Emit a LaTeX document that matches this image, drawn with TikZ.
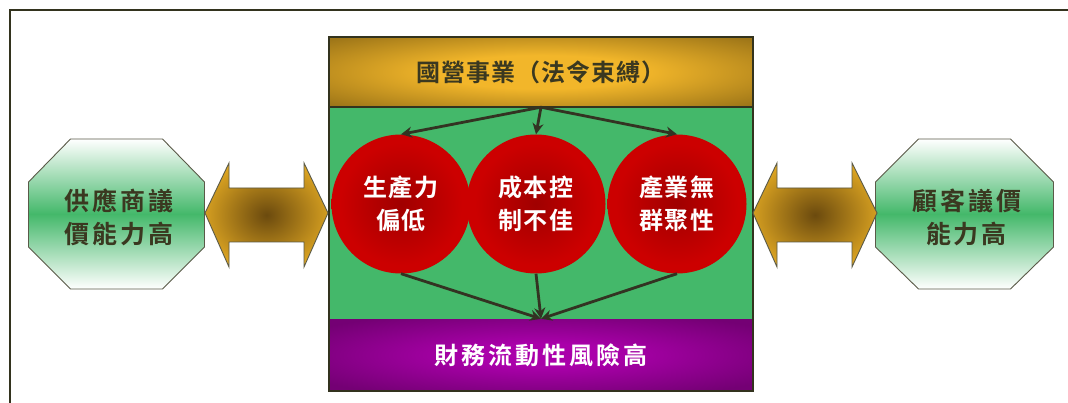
\documentclass[tikz,border=0pt]{standalone}
\usepackage{fontspec}
\usetikzlibrary{arrows.meta}
\newfontfamily\cjk{Noto Sans CJK TC Bold}
\definecolor{frm}{HTML}{33331E}
\definecolor{grn}{HTML}{44B86A}
\definecolor{goldo}{HTML}{9E7618}
\definecolor{goldi}{HTML}{F2B62A}
\definecolor{puro}{HTML}{740074}
\definecolor{puri}{HTML}{AA00AA}
\definecolor{redo}{HTML}{CC0000}
\definecolor{redi}{HTML}{A00000}
\definecolor{txt}{HTML}{3A3820}
\definecolor{arr}{HTML}{333322}
\definecolor{arro}{HTML}{E8AE24}
\definecolor{arrd}{HTML}{6B4A0E}
\definecolor{octl}{HTML}{5A5A48}
\pgfdeclareradialshading{goldsh}{\pgfpoint{0bp}{0bp}}{color(0bp)=(goldi); color(12bp)=(goldi); color(34bp)=(goldo); color(100bp)=(goldo)}
\pgfdeclareradialshading{pursh}{\pgfpoint{0bp}{0bp}}{color(0bp)=(puri); color(8bp)=(puri); color(32bp)=(puro); color(100bp)=(puro)}
\pgfdeclareradialshading{redsh}{\pgfpoint{0bp}{0bp}}{color(0bp)=(redi); color(22bp)=(redo); color(100bp)=(redo)}
\pgfdeclareradialshading{dblsh}{\pgfpoint{0bp}{0bp}}{color(0bp)=(arrd); color(30bp)=(arro); color(100bp)=(arro)}
\begin{document}
\begin{tikzpicture}[x=1pt,y=-1pt,
  band/.style={rectangle, inner sep=0pt, minimum width=424pt, shade, font=\cjk\fontsize{24}{30}\selectfont},
  circ/.style={circle, inner sep=0pt, minimum size=139pt, shade, shading=redsh, text=white, align=center,
    font=\cjk\fontsize{24}{33}\selectfont\addfontfeatures{LetterSpace=8}},
  oct/.style={draw=octl, line width=0.9pt, top color=white, bottom color=white, middle color=grn},
  octtext/.style={text=txt, align=center, inner sep=0pt, font=\cjk\fontsize{25}{33}\selectfont\addfontfeatures{LetterSpace=12}},
  dbl/.style={draw=octl, line width=0.9pt, shading=dblsh},
  conn/.style={draw=arr, line width=2.8pt, -{Stealth[length=11pt,width=11pt]}}]
\useasboundingbox (0,0) rectangle (1068,403);
\fill[white] (0,0) rectangle (1068,403);
\draw[frm, line width=2.4pt] (10,403) -- (10,10) -- (1068,10);

% central block
\fill[grn] (329,107) rectangle (753,319);
\node[band, minimum height=70pt, shading=goldsh, text=txt] (g) at (541,72)
  {\addfontfeatures{LetterSpace=4}國營事業（法令束縛）};
\node[band, minimum height=72pt, shading=pursh, text=white] (p) at (541,355)
  {\addfontfeatures{LetterSpace=12}財務流動性風險高};
\draw[frm, line width=1.4pt] (329,37) rectangle (753,391);
\draw[frm, line width=1.2pt] (329,107) -- (753,107);

% circles
\node[circ] (c1) at (401,204) {生產力\\偏低};
\node[circ] (c2) at (536,204) {成本控\\制不佳};
\node[circ] (c3) at (677,204) {產業無\\群聚性};

% connectors
\draw[conn] (g.south) -- (c1.north);
\draw[conn] (g.south) -- (c2.north);
\draw[conn] (g.south) -- (c3.north);
\draw[conn] (c1.south) -- (p.north);
\draw[conn] (c2.south) -- (p.north);
\draw[conn] (c3.south) -- (p.north);

% octagons
\begin{scope}[shift={(116.5,214)}]
\shade[oct] (-46,-75) -- (46,-75) -- (88,-32) -- (88,33) -- (46,75) -- (-46,75) -- (-88,33) -- (-88,-32) -- cycle;
\node[octtext] (lo) at (2,3) {供應商議\\價能力高};
\end{scope}
\begin{scope}[shift={(964.5,214)}]
\shade[oct] (-46,-75) -- (46,-75) -- (89,-32) -- (89,33) -- (46,75) -- (-46,75) -- (-89,33) -- (-89,-32) -- cycle;
\node[octtext] (ro) at (2,3) {顧客議價\\能力高};
\end{scope}

% double arrows
\shade[dbl] (205,213) -- (229,163) -- (229,188) -- (304,188) -- (304,163) -- (328,213)
  -- (304,267) -- (304,242) -- (229,242) -- (229,267) -- cycle;
\shade[dbl] (753,213) -- (777,163) -- (777,188) -- (852,188) -- (852,163) -- (877,213)
  -- (852,267) -- (852,242) -- (777,242) -- (777,267) -- cycle;
\end{tikzpicture}
\end{document}
